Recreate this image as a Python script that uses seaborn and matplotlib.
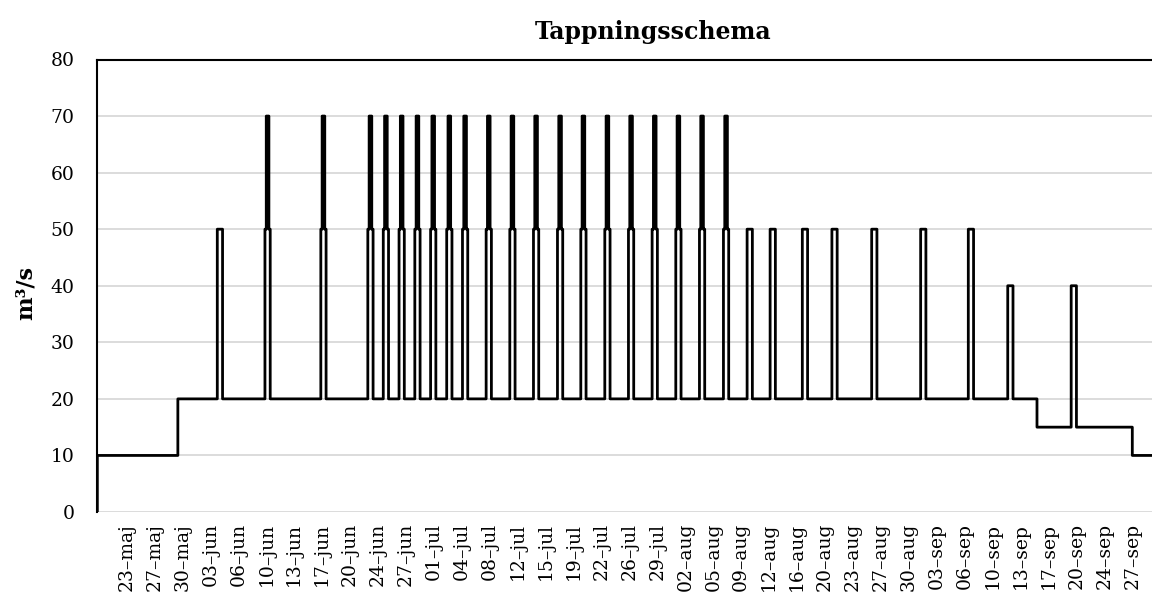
import numpy as np
import pandas as pd
import matplotlib
matplotlib.use("Agg")
import matplotlib.pyplot as plt
import seaborn as sns

# time axis in days counted from 20 May 00:00 (hourly values)
tick_labels = ["23–maj", "27–maj", "30–maj", "03–jun", "06–jun", "10–jun", "13–jun",
               "17–jun", "20–jun", "24–jun", "27–jun", "01–jul", "04–jul", "08–jul",
               "12–jul", "15–jul", "19–jul", "22–jul", "26–jul", "29–jul", "02–aug",
               "05–aug", "09–aug", "12–aug", "16–aug", "20–aug", "23–aug", "27–aug",
               "30–aug", "03–sep", "06–sep", "10–sep", "13–sep", "17–sep", "20–sep",
               "24–sep", "27–sep"]

# base flow, changes at these days
base_day = [0.0, 0.04, 10.23, 119.13, 131.25]
base_flow = [0, 10, 20, 15, 10]

# release pulses (centre day and peak flow)
pulse_day = [15.56, 21.62, 28.69, 34.65, 36.61, 38.59, 40.61, 42.62, 44.66, 46.65,
             49.66, 52.65, 55.65, 58.70, 61.65, 64.68, 67.69, 70.70, 73.69, 76.70,
             79.72, 82.75, 85.66, 89.72, 93.46, 98.54, 104.75, 110.77, 115.78, 123.83]
pulse_flow = [50, 70, 70, 70, 70, 70, 70, 70, 70, 70,
              70, 70, 70, 70, 70, 70, 70, 70, 70, 70,
              70, 50, 50, 50, 50, 50, 50, 50, 40, 40]

hours = np.arange(0, 134 * 24 + 1) / 24
flow = np.zeros_like(hours)
for d, q in zip(base_day, base_flow):
    flow[hours >= d] = q
for c, q in zip(pulse_day, pulse_flow):
    flow[(hours >= c - 8 / 24) & (hours < c + 8 / 24)] = min(q, 50)
    if q > 50:
        flow[(hours >= c - 4 / 24) & (hours < c + 4 / 24)] = q

df = pd.DataFrame({"day": hours, "flow": flow})

sns.set_style("white")
plt.rcParams["font.family"] = ["DejaVu Serif"]
plt.rcParams["text.color"] = "black"
plt.rcParams["xtick.color"] = "black"
plt.rcParams["ytick.color"] = "black"

fig = plt.figure(figsize=(11.52, 6.01), dpi=100)
ax = fig.add_axes([97 / 1152, 89 / 601, 1057 / 1152, 452.5 / 601])

sns.lineplot(data=df, x="day", y="flow", ax=ax, color="black", linewidth=2.0,
             drawstyle="steps-post")

ax.set_xlim(0, 134)
ax.set_ylim(0, 80)
ax.set_yticks(range(0, 81, 10))
ax.yaxis.grid(True, color="#d9d9d9", linewidth=1.3)
ax.set_axisbelow(True)

first_tick = 3.75
ax.set_xticks(first_tick + np.arange(len(tick_labels)) * 85 / 24)
ax.set_xticklabels(tick_labels, rotation=90)
ax.tick_params(axis="x", length=0, pad=8, labelsize=13.5, labelcolor="black")
ax.tick_params(axis="y", length=0, pad=16, labelsize=13.5, labelcolor="black")

for s in ["bottom", "right"]:
    ax.spines[s].set_visible(False)
for s in ["top", "left"]:
    ax.spines[s].set_color("black")
    ax.spines[s].set_linewidth(1.5)

ax.set_xlabel("")
ax.set_ylabel("")
fig.text(653 / 1152, 1 - 32 / 601, "Tappningsschema", ha="center", va="center",
         fontsize=17, fontweight="bold", color="black")
fig.text(26 / 1152, 1 - 293 / 601, "m³/s", rotation=90, ha="center", va="center",
         fontsize=16, fontweight="bold", color="black")

fig.savefig("out.png", dpi=100)
